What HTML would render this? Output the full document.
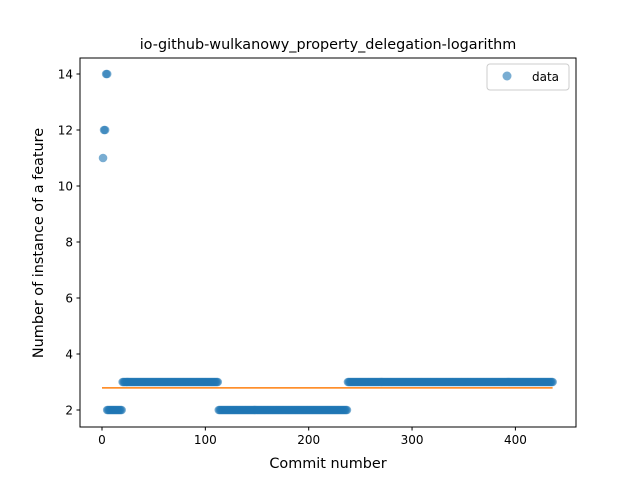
<!DOCTYPE html>
<html><head><meta charset="utf-8"><style>
body{margin:0;background:#fff;font-family:"Liberation Sans","DejaVu Sans",sans-serif}
svg text{font-family:"DejaVu Sans","Liberation Sans",sans-serif;fill:#000}
</style></head><body>
<svg id="chart" width="640" height="480" viewBox="0 0 640 480" xmlns="http://www.w3.org/2000/svg">
<rect width="640" height="480" fill="#fff"/>
<text x="328" y="49" font-size="14.4" text-anchor="middle">io-github-wulkanowy_property_delegation-logarithm</text>
<g id="marks"></g>
<g id="axes"></g>
<rect x="80" y="58" width="496" height="369" fill="none" stroke="#000" stroke-width="1"/>
<text x="328" y="468" font-size="14.4" text-anchor="middle">Commit number</text>
<text transform="translate(43,243) rotate(-90)" font-size="14.4" text-anchor="middle">Number of instance of a feature</text>
<g>
<rect x="487" y="64" width="82" height="26" rx="3" fill="#fff" stroke="#ccc"/>
<circle cx="507" cy="76" r="4.5" fill="#1f77b4" fill-opacity="0.6"/>
<text x="532" y="81" font-size="12">data</text>
</g>
</svg>
<script>
// data segments: commit ranges with constant value
const segStart=[1,2,4,5,20,113,238];
const segEnd=[1,3,5,19,112,237,436];
const segValue=[11,12,14,2,3,2,3];
const trendStart=0, trendEnd=436, trendValue=2.79;
const xTicks=[0,100,200,300,400];
const yTicks=[2,4,6,8,10,12,14];
const X=v=>102+v*1.0335;
const Y=v=>410-(v-2)*28;
const NS="http://www.w3.org/2000/svg";
const marks=document.getElementById('marks');
const axes=document.getElementById('axes');
for(let s=0;s<segStart.length;s++){
  for(let i=segStart[s];i<=segEnd[s];i++){
    const c=document.createElementNS(NS,'circle');
    c.setAttribute('cx',X(i));c.setAttribute('cy',Y(segValue[s]));c.setAttribute('r',4.3);
    c.setAttribute('fill','#1f77b4');c.setAttribute('fill-opacity','0.6');
    
    
    marks.appendChild(c);
  }
}
const ln=document.createElementNS(NS,'line');
ln.setAttribute('x1',X(trendStart));ln.setAttribute('x2',X(trendEnd));
ln.setAttribute('y1',Y(trendValue));ln.setAttribute('y2',Y(trendValue));
ln.setAttribute('stroke','#ff7f0e');ln.setAttribute('stroke-width','1.5');


marks.appendChild(ln);
xTicks.forEach(t=>{
  const l=document.createElementNS(NS,'line');
  l.setAttribute('x1',X(t));l.setAttribute('x2',X(t));l.setAttribute('y1',427);l.setAttribute('y2',430.5);l.setAttribute('stroke','#000');
  
  
  axes.appendChild(l);
  const tx=document.createElementNS(NS,'text');
  tx.setAttribute('x',X(t));tx.setAttribute('y',444);tx.setAttribute('font-size','12');tx.setAttribute('text-anchor','middle');
  tx.textContent=t;
  
  
  axes.appendChild(tx);
});
yTicks.forEach(t=>{
  const l=document.createElementNS(NS,'line');
  l.setAttribute('x1',76.5);l.setAttribute('x2',80);l.setAttribute('y1',Y(t));l.setAttribute('y2',Y(t));l.setAttribute('stroke','#000');
  
  
  axes.appendChild(l);
  const tx=document.createElementNS(NS,'text');
  tx.setAttribute('x',73);tx.setAttribute('y',Y(t)+4.5);tx.setAttribute('font-size','12');tx.setAttribute('text-anchor','end');
  tx.textContent=t;
  
  
  axes.appendChild(tx);
});
</script>
</body></html>
